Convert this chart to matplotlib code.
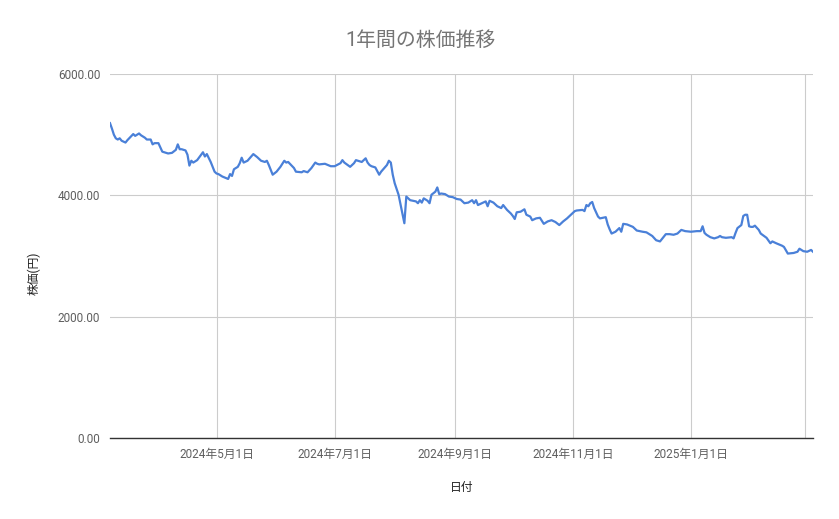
"""
1年間の株価推移 - line chart in the style of a Google Sheets chart
"""

import matplotlib
matplotlib.use("Agg")
import matplotlib.pyplot as plt
import pandas as pd

# fonts: latin from Roboto, japanese falls back to Noto Sans CJK JP
plt.rcParams['font.family'] = ['Roboto', 'Noto Sans CJK JP', 'DejaVu Sans']

# --- data ---
dates = [
    "2024-03-07", "2024-03-08", "2024-03-09", "2024-03-10", "2024-03-11", "2024-03-12", "2024-03-13", "2024-03-15", "2024-03-16", "2024-03-19",
    "2024-03-20", "2024-03-22", "2024-03-23", "2024-03-25", "2024-03-26", "2024-03-28", "2024-03-29", "2024-03-30", "2024-04-01", "2024-04-02",
    "2024-04-03", "2024-04-06", "2024-04-08", "2024-04-10", "2024-04-11", "2024-04-12", "2024-04-13", "2024-04-15", "2024-04-16", "2024-04-17",
    "2024-04-18", "2024-04-19", "2024-04-21", "2024-04-24", "2024-04-25", "2024-04-26", "2024-04-28", "2024-04-30", "2024-05-01",
    "2024-05-02", "2024-05-04", "2024-05-07", "2024-05-08", "2024-05-09", "2024-05-10", "2024-05-12", "2024-05-13", "2024-05-14", "2024-05-15",
    "2024-05-17", "2024-05-20", "2024-05-22", "2024-05-24", "2024-05-26", "2024-05-27", "2024-05-28", "2024-05-30", "2024-06-01", "2024-06-03",
    "2024-06-05", "2024-06-06", "2024-06-07", "2024-06-10", "2024-06-11", "2024-06-14", "2024-06-15", "2024-06-17", "2024-06-19", "2024-06-21",
    "2024-06-22", "2024-06-23", "2024-06-26", "2024-06-29", "2024-07-01", "2024-07-04",
    "2024-07-05", "2024-07-06", "2024-07-09", "2024-07-11", "2024-07-12", "2024-07-15", "2024-07-17", "2024-07-18", "2024-07-19", "2024-07-20",
    "2024-07-22", "2024-07-24", "2024-07-25", "2024-07-28", "2024-07-29", "2024-07-30", "2024-07-31", "2024-08-01", "2024-08-03", "2024-08-05",
    "2024-08-06", "2024-08-07", "2024-08-08", "2024-08-09", "2024-08-12", "2024-08-13", "2024-08-14", "2024-08-15", "2024-08-16", "2024-08-18",
    "2024-08-19", "2024-08-20", "2024-08-22", "2024-08-23", "2024-08-24", "2024-08-25", "2024-08-27", "2024-08-29", "2024-08-31", "2024-09-02",
    "2024-09-04",
    "2024-09-06", "2024-09-08", "2024-09-10", "2024-09-11", "2024-09-12", "2024-09-13", "2024-09-15", "2024-09-17", "2024-09-18", "2024-09-19",
    "2024-09-21", "2024-09-23", "2024-09-25", "2024-09-26", "2024-09-28", "2024-09-30", "2024-10-01", "2024-10-02", "2024-10-03", "2024-10-05",
    "2024-10-07", "2024-10-08", "2024-10-10", "2024-10-11", "2024-10-13", "2024-10-15", "2024-10-17", "2024-10-19", "2024-10-21", "2024-10-23",
    "2024-10-25", "2024-10-27", "2024-10-29", "2024-10-31", "2024-11-02",
    "2024-11-03", "2024-11-06", "2024-11-07", "2024-11-08", "2024-11-09", "2024-11-10", "2024-11-11", "2024-11-12", "2024-11-14", "2024-11-15",
    "2024-11-18", "2024-11-19", "2024-11-20", "2024-11-21", "2024-11-23", "2024-11-25", "2024-11-26", "2024-11-27", "2024-11-29", "2024-12-02",
    "2024-12-04", "2024-12-07", "2024-12-09", "2024-12-12", "2024-12-14", "2024-12-16", "2024-12-17", "2024-12-19", "2024-12-21", "2024-12-23",
    "2024-12-25", "2024-12-27", "2024-12-29", "2025-01-01",
    "2025-01-04", "2025-01-06", "2025-01-07", "2025-01-08", "2025-01-09", "2025-01-11", "2025-01-13", "2025-01-15", "2025-01-16", "2025-01-17",
    "2025-01-19", "2025-01-22", "2025-01-23", "2025-01-24", "2025-01-25", "2025-01-27", "2025-01-28", "2025-01-29", "2025-01-30", "2025-01-31",
    "2025-02-01", "2025-02-02", "2025-02-03", "2025-02-05", "2025-02-06", "2025-02-09", "2025-02-11", "2025-02-12", "2025-02-14", "2025-02-17",
    "2025-02-18", "2025-02-20", "2025-02-23", "2025-02-25", "2025-02-26", "2025-02-28", "2025-03-02", "2025-03-04", "2025-03-05",
]

prices = [
    5190, 5100, 5000, 4940, 4920, 4940, 4900, 4870, 4910, 5010,
    4980, 5020, 4990, 4950, 4920, 4920, 4840, 4860, 4860, 4790,
    4720, 4690, 4700, 4750, 4840, 4760, 4760, 4740, 4670, 4490,
    4570, 4540, 4580, 4710, 4640, 4680, 4550, 4390, 4360,
    4350, 4310, 4270, 4350, 4320, 4430, 4470, 4530, 4620, 4540,
    4570, 4680, 4630, 4570, 4550, 4570, 4500, 4340, 4390, 4470,
    4570, 4540, 4550, 4450, 4390, 4380, 4400, 4380, 4450, 4540,
    4520, 4510, 4520, 4480, 4480, 4530,
    4580, 4540, 4470, 4530, 4580, 4550, 4610, 4540, 4500, 4480,
    4460, 4340, 4390, 4500, 4570, 4540, 4340, 4200, 4010, 3700,
    3540, 3980, 3950, 3920, 3900, 3870, 3920, 3880, 3950, 3910,
    3870, 4010, 4060, 4130, 4020, 4030, 4020, 3980, 3970, 3940,
    3930,
    3870, 3880, 3920, 3870, 3920, 3840, 3870, 3900, 3820, 3910,
    3880, 3820, 3790, 3840, 3760, 3700, 3660, 3610, 3720, 3730,
    3770, 3680, 3650, 3590, 3620, 3630, 3530, 3570, 3590, 3560,
    3510, 3570, 3620, 3680, 3740,
    3750, 3760, 3740, 3840, 3820, 3870, 3890, 3790, 3650, 3620,
    3640, 3520, 3440, 3370, 3400, 3460, 3400, 3530, 3520, 3480,
    3420, 3400, 3390, 3330, 3260, 3240, 3280, 3360, 3360, 3350,
    3370, 3430, 3410, 3400,
    3410, 3410, 3490, 3380, 3350, 3310, 3290, 3310, 3330, 3310,
    3300, 3310, 3290, 3380, 3460, 3510, 3660, 3680, 3680, 3490,
    3480, 3480, 3500, 3430, 3370, 3300, 3210, 3240, 3210, 3170,
    3150, 3040, 3050, 3070, 3120, 3080, 3070, 3100, 3070,
]

tick_dates = ["2024-05-01", "2024-07-01", "2024-09-01", "2024-11-01", "2025-01-01", "2025-03-01"]
tick_labels = ["2024年5月1日", "2024年7月1日", "2024年9月1日", "2024年11月1日", "2025年1月1日", ""]
y_ticks = [0, 2000, 4000, 6000]

title = "1年間の株価推移"
x_label = "日付"
y_label = "株価(円)"


def main():

    x = pd.to_datetime(dates)

    fig = plt.figure(figsize=(8.39, 5.19), dpi=100)
    ax = fig.add_axes([110 / 839, 1 - 438 / 519, 703 / 839, 364 / 519])

    # the price line
    ax.plot(x, prices, color="#4a80d8", lw=1.6, solid_joinstyle="round")

    # axes ranges
    ax.set_xlim(x[0], x[-1])
    ax.set_ylim(0, 6000)

    # ticks and labels
    ax.set_xticks(pd.to_datetime(tick_dates))
    ax.set_xticklabels(tick_labels)
    ax.set_yticks(y_ticks)
    ax.set_yticklabels(["{:.2f}".format(v) for v in y_ticks])
    ax.tick_params(axis="both", length=0, labelsize=8.5, colors="#5f5f5f")
    ax.tick_params(axis="x", pad=7)
    ax.tick_params(axis="y", pad=7)

    # grid, spines
    ax.grid(True, color="#cccccc", lw=0.8)
    ax.set_axisbelow(True)
    for side in ["top", "right", "left"]:
        ax.spines[side].set_visible(False)
    ax.spines["bottom"].set_color("#333333")
    ax.spines["bottom"].set_linewidth(1.0)
    ax.spines["bottom"].set_zorder(3)

    # text
    fig.text(420 / 839, 1 - 40 / 519, title, ha="center", va="center",
             fontsize=14.3, color="#757575")
    fig.text(462 / 839, 1 - 487 / 519, x_label, ha="center", va="center",
             fontsize=8.5, color="#222222")
    fig.text(34 / 839, 1 - 273 / 519, y_label, ha="center", va="center",
             rotation=90, fontsize=8.5, color="#222222")

    fig.savefig("out.png", dpi=100)

    return 0


if __name__ == "__main__":
    main()
